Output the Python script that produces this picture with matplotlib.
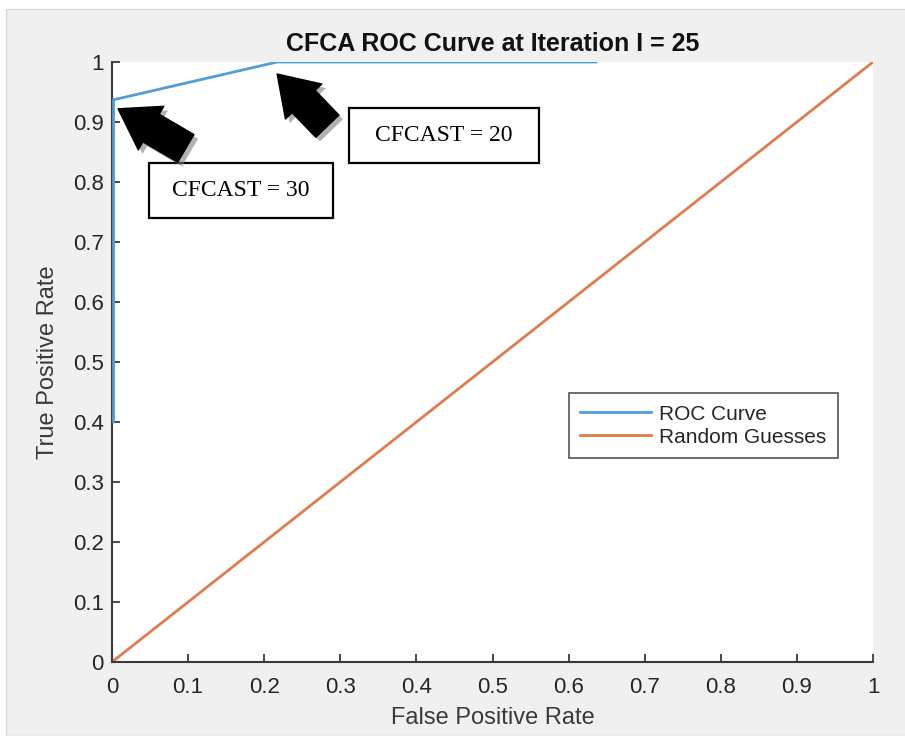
import matplotlib
matplotlib.use('Agg')
import matplotlib.pyplot as plt
from matplotlib.patches import Rectangle, FancyArrowPatch
import matplotlib.patheffects as pe

# Datos
roc_fpr = [0.0, 0.0, 0.217, 0.636]
roc_tpr = [0.40, 0.937, 1.0, 1.0]
rand_fpr = [0.0, 1.0]
rand_tpr = [0.0, 1.0]
ticks = [0, 0.1, 0.2, 0.3, 0.4, 0.5, 0.6, 0.7, 0.8, 0.9, 1]
tick_labels = ['0', '0.1', '0.2', '0.3', '0.4', '0.5', '0.6', '0.7', '0.8', '0.9', '1']

# Etiquetas de las flechas: (texto, caja [x0, y0, x1, y1], cola, punta)
notas = [
    ('CFCAST = 30', (0.0486, 0.740, 0.2904, 0.8317), (0.097, 0.856), (0.008, 0.922)),
    ('CFCAST = 20', (0.3114, 0.8317, 0.5611, 0.9233), (0.283, 0.893), (0.217, 0.980)),
]

plt.rcParams['font.family'] = ['Liberation Sans', 'DejaVu Sans']

fig = plt.figure(figsize=(9.05, 7.36), dpi=100)
fig.patch.set_facecolor('white')
# panel gris de fondo (estilo MATLAB)
fig.patches.append(Rectangle((6 / 905, 0), 1, 1 - 9 / 736, transform=fig.transFigure,
                             facecolor='#f0f0f0', edgecolor='#d8d8d8', linewidth=1, zorder=-10))

ax = fig.add_axes([112 / 905, 74 / 736, 761 / 905, 600 / 736])
ax.set_facecolor('white')

# la curva ROC se pinta un poco a la derecha del eje para que se vea junto a la espina
roc_x_visible = [v + 0.002 if v == 0 else v for v in roc_fpr]
ax.plot(roc_x_visible, roc_tpr, color='#4f9fd4', linewidth=2, label='ROC Curve', zorder=3)
ax.plot(rand_fpr, rand_tpr, color='#e07b4f', linewidth=2, label='Random Guesses')

ax.set_xlim(0, 1)
ax.set_ylim(0, 1)
ax.set_xticks(ticks)
ax.set_xticklabels(tick_labels)
ax.set_yticks(ticks)
ax.set_yticklabels(tick_labels)

for s in ['top', 'right']:
    ax.spines[s].set_visible(False)
for s in ['left', 'bottom']:
    ax.spines[s].set_color('#3a3a3a')
    ax.spines[s].set_linewidth(1.5)
ax.tick_params(direction='in', length=6, width=1.3, color='#3a3a3a',
               labelsize=16, labelcolor='#262626')
ax.tick_params(axis='x', pad=11)
ax.tick_params(axis='y', pad=6)

ax.set_xlabel('False Positive Rate', fontsize=17, color='#3a3a3a', labelpad=6)
ax.set_ylabel('True Positive Rate', fontsize=17, color='#3a3a3a', labelpad=10)
ax.set_title('CFCA ROC Curve at Iteration I = 25', fontsize=18, fontweight='bold',
             color='#111111', pad=8)

leg = ax.legend(loc='center', bbox_to_anchor=(0.777, 0.394), fontsize=15,
                fancybox=False, edgecolor='#555555', framealpha=1,
                handlelength=3.4, borderpad=0.55, labelspacing=0.2, handletextpad=0.4,
                borderaxespad=0)
leg.get_frame().set_linewidth(1.2)
for t in leg.get_texts():
    t.set_color('#262626')

for texto, caja, cola, punta in notas:
    x0, y0, x1, y1 = caja
    ax.add_patch(Rectangle((x0, y0), x1 - x0, y1 - y0, facecolor='white',
                           edgecolor='black', linewidth=1.6, zorder=4))
    ax.text((x0 + x1) / 2, (y0 + y1) / 2, texto, family=['Liberation Serif', 'DejaVu Serif'],
            fontsize=17, ha='center', va='center', zorder=5)
    flecha = FancyArrowPatch(cola, punta,
                             arrowstyle='simple,head_length=0.5,head_width=0.66,tail_width=0.42',
                             mutation_scale=55, color='black', zorder=6, shrinkA=0, shrinkB=0,
                             clip_on=False)
    flecha.set_path_effects([pe.SimplePatchShadow(offset=(3, -3), shadow_rgbFace='gray', alpha=0.6),
                             pe.Normal()])
    ax.add_patch(flecha)

fig.savefig('out.png', dpi=100, facecolor=fig.get_facecolor())
